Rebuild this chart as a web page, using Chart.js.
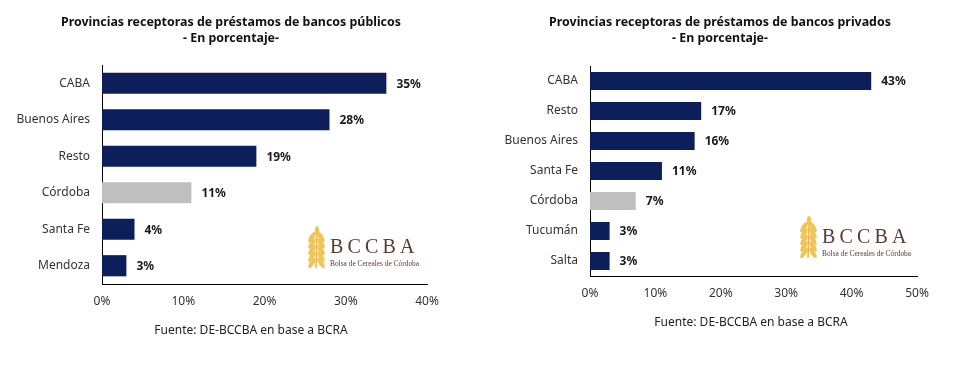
<!DOCTYPE html>
<html>
<head>
<meta charset="utf-8">
<script src="https://cdn.jsdelivr.net/npm/chart.js@4.4.1/dist/chart.umd.min.js"></script>
<style>
  body { margin: 0; background: #fff; }
  .wrap { position: absolute; top: 0; width: 486px; height: 365px; }
</style>
</head>
<body>
<div class="wrap" style="left:0"><canvas id="g_publicos"></canvas></div>
<div class="wrap" style="left:486px"><canvas id="g_privados"></canvas></div>
<script>
// datos
var publicCats = ['CABA', 'Buenos Aires', 'Resto', 'Córdoba', 'Santa Fe', 'Mendoza'];
var publicVals = [35, 28, 19, 11, 4, 3];
var privateCats = ['CABA', 'Resto', 'Buenos Aires', 'Santa Fe', 'Córdoba', 'Tucumán', 'Salta'];
var privateVals = [43, 17, 16, 11, 7, 3, 3];
var publicTitle = ['Provincias receptoras de préstamos de bancos públicos', '- En porcentaje-'];
var privateTitle = ['Provincias receptoras de préstamos de bancos privados', '- En porcentaje-'];
var fuente = 'Fuente: DE-BCCBA en base a BCRA';

var NAVY = '#0c1f5b';
var GREY = '#bfbfbf';
var FONT = "'Noto Sans', sans-serif";

function colores(cats){
    return cats.map(function(c){ return c === 'Córdoba' ? GREY : NAVY; });
}

// etiquetas de valor al final de cada barra
var valueLabels = {
    id: 'valueLabels',
    afterDatasetsDraw: function(chart){
        var ctx = chart.ctx;
        var meta = chart.getDatasetMeta(0);
        var data = chart.data.datasets[0].data;
        ctx.save();
        ctx.font = 'bold 12px ' + FONT;
        ctx.fillStyle = '#1a1a1a';
        ctx.textBaseline = 'middle';
        ctx.textAlign = 'left';
        meta.data.forEach(function(bar, i){
            ctx.fillText(Math.round(data[i]) + '%', bar.x + 10, bar.y + 1);
        });
        ctx.restore();
    }
};

// titulo, fuente y logo
var decor = {
    id: 'decor',
    afterDraw: function(chart, args, opts){
        var ctx = chart.ctx;
        ctx.save();
        ctx.textAlign = 'center';
        ctx.textBaseline = 'middle';
        ctx.fillStyle = '#111';
        ctx.font = 'bold 12.4px ' + FONT;
        ctx.fillText(opts.title[0], opts.titleX, 22);
        ctx.fillText(opts.title[1], opts.titleX, 38);
        ctx.font = '12px ' + FONT;
        ctx.fillStyle = '#222';
        ctx.fillText(fuente, opts.footX, opts.footY);

        // logo BCCBA: espiga
        var lx = opts.logoX, ly = opts.logoY;
        ctx.strokeStyle = '#e9b849';
        ctx.lineWidth = 1.5;
        ctx.beginPath();
        ctx.moveTo(lx + 9, ly + 41);
        ctx.lineTo(lx + 10, ly + 6);
        ctx.stroke();
        ctx.fillStyle = '#f1c459';
        for (var k = 0; k < 5; k++){
            var yy = ly + 10 + k * 6.5;
            ctx.beginPath();
            ctx.ellipse(lx + 5, yy, 6, 2.3, -1.0, 0, Math.PI * 2);
            ctx.fill();
            ctx.beginPath();
            ctx.ellipse(lx + 14, yy, 6, 2.3, 1.0, 0, Math.PI * 2);
            ctx.fill();
        }
        ctx.beginPath();
        ctx.ellipse(lx + 10, ly + 4, 2.2, 5, 0, 0, Math.PI * 2);
        ctx.fill();

        ctx.fillStyle = '#5b3b30';
        ctx.textAlign = 'left';
        ctx.textBaseline = 'alphabetic';
        ctx.font = "20px 'Liberation Serif', serif";
        var letters = ['B', 'C', 'C', 'B', 'A'];
        letters.forEach(function(l, i){
            ctx.fillText(l, lx + 23 + i * 17.5, ly + 26);
        });
        ctx.font = "7.4px 'Liberation Serif', serif";
        ctx.fillText('Bolsa de Cereales de Córdoba', lx + 23, ly + 39);
        ctx.restore();
    }
};

function grafBarras(id, cats, vals, maxX, cfg){
    var ctx = document.getElementById(id);
    return new Chart(ctx, {
        type: 'bar',
        data: {
            labels: cats,
            datasets: [{
                data: vals,
                backgroundColor: colores(cats),
                borderWidth: 0,
                barPercentage: cfg.barPct,
                categoryPercentage: 1
            }]
        },
        options: {
            indexAxis: 'y',
            responsive: true,
            maintainAspectRatio: false,
            animation: false,
            layout: { padding: { left: 0, right: cfg.padRight, top: cfg.top, bottom: cfg.padBottom } },
            plugins: {
                legend: { display: false },
                tooltip: { enabled: false },
                decor: cfg.decor
            },
            scales: {
                x: {
                    min: 0,
                    max: maxX,
                    ticks: {
                        stepSize: 10,
                        padding: 10,
                        color: '#333',
                        font: { family: FONT, size: 12 },
                        callback: function(v){ return v + '%'; }
                    },
                    grid: { display: false, drawTicks: false },
                    border: { display: true, color: '#000', width: 1 },
                    afterFit: function(s){ s.height = 30; }
                },
                y: {
                    ticks: {
                        padding: 12,
                        color: '#333',
                        font: { family: FONT, size: 12 }
                    },
                    grid: { display: false, drawTicks: false },
                    border: { display: true, color: '#000', width: 1 },
                    afterFit: function(s){ s.width = cfg.axisLeft; }
                }
            }
        },
        plugins: [valueLabels, decor]
    });
}

grafBarras('g_publicos', publicCats, publicVals, 40, {
    barPct: 0.58, padRight: 59, top: 65, padBottom: 51, axisLeft: 102,
    decor: { title: publicTitle, titleX: 231, footX: 251, footY: 331, logoX: 307, logoY: 227 }
});

grafBarras('g_privados', privateCats, privateVals, 50, {
    barPct: 0.6, padRight: 55, top: 66, padBottom: 59, axisLeft: 104,
    decor: { title: privateTitle, titleX: 234, footX: 265, footY: 323, logoX: 313, logoY: 217 }
});
</script>
</body>
</html>
